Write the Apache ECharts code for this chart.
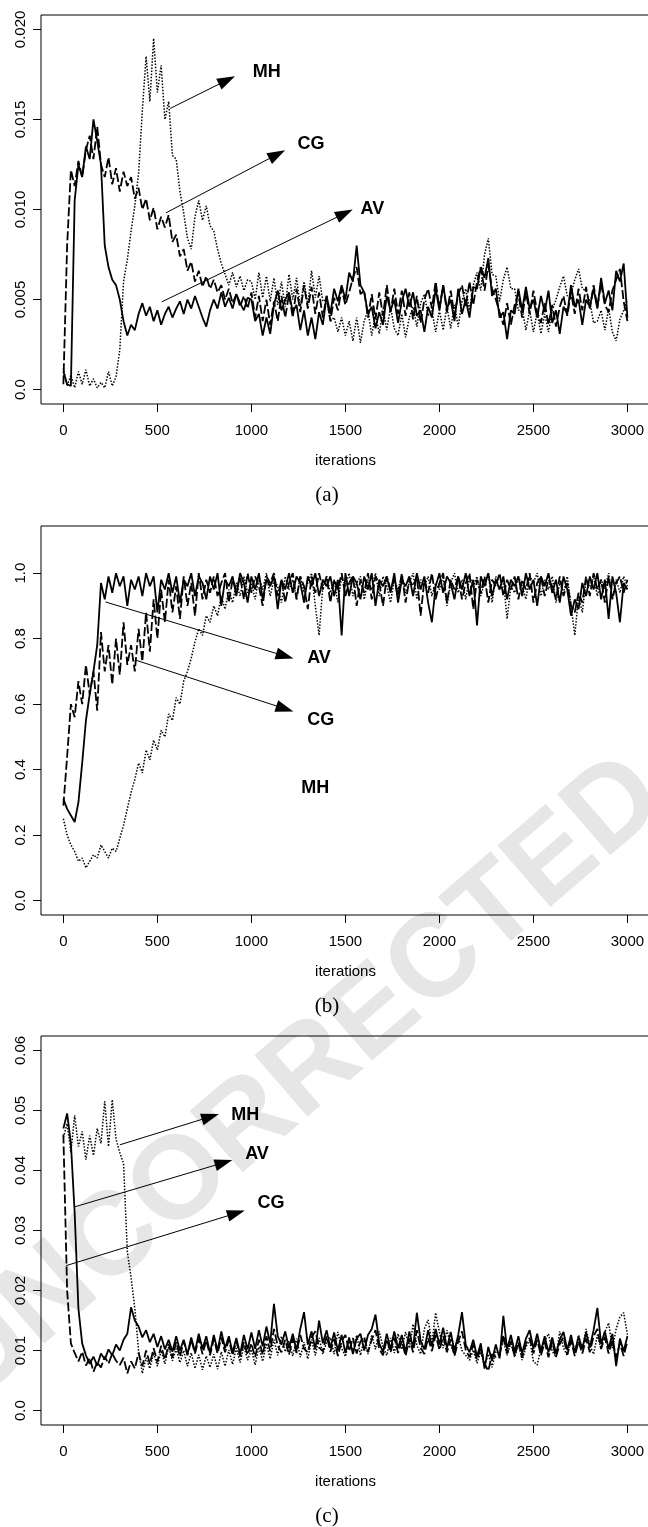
<!DOCTYPE html>
<html><head><meta charset="utf-8">
<script src="https://cdn.jsdelivr.net/npm/echarts@6/dist/echarts.min.js"></script>
<style>html,body{margin:0;padding:0;background:#fff}#c{width:648px;height:1527px}</style>
</head><body><div id="c"></div>
<script>
const iterations = [];
for (let t = 0; t <= 3000; t += 20) iterations.push(t);

const xTicks = [0, 500, 1000, 1500, 2000, 2500, 3000];
const yTicksA = [0, 0.005, 0.010, 0.015, 0.020];
const yLabelsA = ['0.0', '0.005', '0.010', '0.015', '0.020'];
const yTicksB = [0, 0.2, 0.4, 0.6, 0.8, 1.0];
const yLabelsB = ['0.0', '0.2', '0.4', '0.6', '0.8', '1.0'];
const yTicksC = [0, 0.01, 0.02, 0.03, 0.04, 0.05, 0.06];
const yLabelsC = ['0.0', '0.01', '0.02', '0.03', '0.04', '0.05', '0.06'];

// ---------- panel (a) ----------
const avA = [
0.0010,0.0003,0.0002,0.0105,0.0125,0.0118,0.0135,0.0128,0.0150,0.0138,
0.0125,0.0080,0.0068,0.0061,0.0058,0.0050,0.0038,0.0030,0.0036,0.0033,
0.0042,0.0048,0.0041,0.0046,0.0038,0.0044,0.0036,0.0042,0.0046,0.0040,
0.0045,0.0049,0.0042,0.0050,0.0045,0.0052,0.0046,0.0040,0.0035,0.0044,
0.0050,0.0045,0.0054,0.0046,0.0051,0.0045,0.0053,0.0048,0.0044,0.0051,
0.0050,0.0038,0.0042,0.0030,0.0040,0.0031,0.0047,0.0055,0.0044,0.0050,
0.0054,0.0043,0.0047,0.0033,0.0044,0.0030,0.0040,0.0028,0.0043,0.0036,
0.0052,0.0042,0.0056,0.0049,0.0058,0.0050,0.0065,0.0060,0.0080,0.0058,
0.0054,0.0042,0.0046,0.0034,0.0043,0.0036,0.0052,0.0044,0.0050,0.0037,
0.0049,0.0056,0.0046,0.0054,0.0041,0.0044,0.0032,0.0046,0.0040,0.0056,
0.0044,0.0058,0.0045,0.0050,0.0038,0.0056,0.0042,0.0050,0.0040,0.0057,
0.0056,0.0068,0.0062,0.0073,0.0052,0.0056,0.0040,0.0043,0.0028,0.0044,
0.0042,0.0056,0.0044,0.0057,0.0045,0.0050,0.0040,0.0052,0.0043,0.0055,
0.0037,0.0044,0.0031,0.0046,0.0042,0.0058,0.0046,0.0050,0.0036,0.0050,
0.0046,0.0056,0.0045,0.0062,0.0048,0.0055,0.0044,0.0066,0.0060,0.0070,
0.0040];
const cgA = [
0.0003,0.0080,0.0122,0.0113,0.0127,0.0118,0.0133,0.0141,0.0128,0.0146,
0.0125,0.0118,0.0129,0.0114,0.0123,0.0110,0.0121,0.0113,0.0118,0.0106,
0.0112,0.0100,0.0106,0.0094,0.0101,0.0089,0.0096,0.0090,0.0097,0.0082,
0.0086,0.0074,0.0078,0.0066,0.0071,0.0060,0.0066,0.0057,0.0063,0.0056,
0.0061,0.0054,0.0058,0.0050,0.0056,0.0048,0.0053,0.0046,0.0052,0.0045,
0.0054,0.0040,0.0052,0.0038,0.0050,0.0036,0.0049,0.0038,0.0052,0.0040,
0.0053,0.0040,0.0056,0.0043,0.0058,0.0045,0.0057,0.0042,0.0054,0.0040,
0.0052,0.0038,0.0051,0.0044,0.0056,0.0047,0.0054,0.0062,0.0068,0.0053,
0.0055,0.0040,0.0053,0.0039,0.0054,0.0041,0.0058,0.0043,0.0056,0.0042,
0.0055,0.0041,0.0054,0.0039,0.0052,0.0037,0.0050,0.0056,0.0045,0.0060,
0.0045,0.0058,0.0043,0.0055,0.0041,0.0053,0.0058,0.0046,0.0060,0.0047,
0.0060,0.0068,0.0055,0.0069,0.0056,0.0050,0.0043,0.0036,0.0048,0.0036,
0.0047,0.0053,0.0040,0.0054,0.0042,0.0055,0.0043,0.0037,0.0048,0.0036,
0.0047,0.0035,0.0046,0.0052,0.0041,0.0054,0.0042,0.0056,0.0044,0.0057,
0.0045,0.0058,0.0046,0.0059,0.0047,0.0043,0.0055,0.0061,0.0067,0.0049,
0.0038];
const mhA = [
0.0012,0.0002,0.0008,0.0001,0.0010,0.0003,0.0011,0.0002,0.0006,0.0001,
0.0004,0.0001,0.0010,0.0002,0.0007,0.0022,0.0060,0.0072,0.0088,0.0102,
0.0120,0.0155,0.0185,0.0160,0.0195,0.0165,0.0180,0.0150,0.0160,0.0130,
0.0128,0.0110,0.0098,0.0084,0.0078,0.0096,0.0105,0.0094,0.0102,0.0091,
0.0088,0.0078,0.0070,0.0064,0.0058,0.0065,0.0057,0.0063,0.0055,0.0061,
0.0060,0.0050,0.0065,0.0051,0.0063,0.0049,0.0062,0.0047,0.0060,0.0046,
0.0064,0.0050,0.0062,0.0046,0.0060,0.0047,0.0066,0.0051,0.0063,0.0049,
0.0050,0.0038,0.0040,0.0032,0.0040,0.0030,0.0038,0.0027,0.0040,0.0026,
0.0038,0.0044,0.0030,0.0042,0.0031,0.0045,0.0033,0.0046,0.0034,0.0030,
0.0042,0.0029,0.0040,0.0046,0.0035,0.0048,0.0053,0.0041,0.0044,0.0032,
0.0044,0.0033,0.0046,0.0034,0.0047,0.0035,0.0049,0.0056,0.0044,0.0058,
0.0065,0.0055,0.0075,0.0084,0.0064,0.0063,0.0049,0.0061,0.0068,0.0056,
0.0056,0.0044,0.0045,0.0033,0.0044,0.0032,0.0043,0.0031,0.0042,0.0032,
0.0044,0.0050,0.0057,0.0063,0.0052,0.0053,0.0061,0.0067,0.0056,0.0055,
0.0049,0.0037,0.0038,0.0044,0.0033,0.0045,0.0032,0.0027,0.0039,0.0044,
0.0050];

// ---------- panel (b) ----------
const avB = [
0.31,0.28,0.26,0.24,0.30,0.42,0.55,0.63,0.70,0.78,
0.97,0.92,0.99,0.94,1.00,0.96,0.99,0.90,0.98,0.95,
0.99,0.93,1.00,0.96,0.99,0.88,0.98,0.95,1.00,0.94,
0.99,0.91,0.98,0.96,1.00,0.93,0.99,0.97,0.92,0.99,
0.95,1.00,0.90,0.98,0.96,0.99,0.93,1.00,0.97,0.91,
0.99,0.95,1.00,0.92,0.98,0.96,0.99,0.89,0.98,0.95,
1.00,0.94,0.99,0.97,0.91,0.99,0.96,1.00,0.93,0.98,
0.96,0.99,0.93,0.98,0.81,1.00,0.93,0.99,0.97,0.92,
0.99,0.95,1.00,0.90,0.98,0.96,0.99,0.94,1.00,0.91,
0.98,0.96,0.99,0.93,1.00,0.95,0.99,0.91,0.85,0.96,
1.00,0.94,0.99,0.97,0.92,0.99,0.95,1.00,0.93,0.98,
0.84,0.99,0.96,1.00,0.93,0.98,0.95,0.99,0.92,0.98,
0.96,0.99,0.93,1.00,0.95,0.98,0.90,0.99,0.96,1.00,
0.94,0.98,0.91,0.99,0.95,0.87,0.92,0.89,0.97,0.93,
0.99,0.95,1.00,0.92,0.98,0.86,0.99,0.94,0.85,0.97,
0.95];
const cgB = [
0.29,0.44,0.60,0.56,0.67,0.60,0.72,0.63,0.70,0.58,
0.82,0.70,0.78,0.66,0.80,0.69,0.85,0.72,0.78,0.70,
0.83,0.73,0.88,0.76,0.92,0.80,0.95,0.85,0.98,0.88,
0.96,0.86,0.99,0.90,0.97,0.87,1.00,0.92,0.98,0.94,
0.99,0.93,0.97,1.00,0.91,0.98,0.95,0.99,0.92,1.00,
0.94,0.99,0.96,0.90,0.99,0.97,1.00,0.93,0.98,0.91,
0.97,1.00,0.92,0.99,0.96,0.89,0.99,0.94,1.00,0.95,
0.99,0.91,0.98,0.95,1.00,0.93,0.97,0.99,0.90,0.98,
0.94,1.00,0.92,0.99,0.97,0.90,0.99,0.95,0.98,0.93,
1.00,0.91,0.98,0.96,0.99,0.87,0.98,0.94,1.00,0.92,
0.97,1.00,0.91,0.98,0.95,0.99,0.92,0.97,1.00,0.89,
0.98,0.94,0.99,0.91,0.98,0.96,1.00,0.93,0.98,0.95,
0.99,0.92,0.98,0.95,1.00,0.91,0.97,0.99,0.93,0.98,
0.96,0.92,0.99,0.93,0.97,0.90,0.88,0.94,0.91,0.99,
0.93,1.00,0.95,0.98,0.91,0.99,0.92,0.97,0.99,0.94,
0.98];
const mhB = [
0.25,0.20,0.17,0.15,0.12,0.13,0.10,0.12,0.14,0.13,
0.17,0.15,0.13,0.16,0.15,0.19,0.23,0.28,0.33,0.37,
0.42,0.39,0.46,0.43,0.49,0.46,0.52,0.50,0.57,0.55,
0.62,0.60,0.67,0.70,0.74,0.79,0.83,0.81,0.87,0.85,
0.90,0.87,0.93,0.89,0.95,0.91,0.97,0.93,0.99,0.94,
0.97,0.92,0.99,0.95,1.00,0.93,0.98,0.96,0.91,0.99,
0.95,0.98,0.92,0.99,0.94,0.97,1.00,0.90,0.81,0.96,
0.99,0.94,0.98,0.91,0.99,0.96,1.00,0.93,0.97,0.99,
0.92,0.98,0.95,1.00,0.93,0.99,0.96,0.91,0.98,0.95,
0.99,0.94,0.97,1.00,0.92,0.98,0.96,0.99,0.93,0.97,
0.95,0.99,0.90,0.97,1.00,0.94,0.98,0.92,0.99,0.96,
0.99,0.93,0.97,1.00,0.91,0.99,0.95,0.98,0.86,0.96,
0.94,0.99,0.96,0.92,0.99,0.97,1.00,0.93,0.98,0.95,
0.99,0.91,0.97,0.94,0.99,0.90,0.81,0.93,0.88,0.98,
0.96,0.99,0.93,0.98,0.95,1.00,0.92,0.98,0.94,0.99,
0.96];

// ---------- panel (c) ----------
const avC = [
0.0470,0.0495,0.0445,0.0330,0.0170,0.0112,0.0092,0.0078,0.0090,0.0075,
0.0095,0.0085,0.0102,0.0092,0.0110,0.0100,0.0118,0.0128,0.0172,0.0150,
0.0140,0.0122,0.0134,0.0114,0.0128,0.0106,0.0124,0.0102,0.0118,0.0098,
0.0124,0.0100,0.0118,0.0094,0.0122,0.0098,0.0128,0.0103,0.0124,0.0096,
0.0126,0.0100,0.0132,0.0104,0.0124,0.0097,0.0121,0.0094,0.0126,0.0102,
0.0130,0.0103,0.0134,0.0107,0.0140,0.0112,0.0178,0.0124,0.0110,0.0132,
0.0104,0.0128,0.0100,0.0136,0.0164,0.0110,0.0132,0.0102,0.0150,0.0112,
0.0134,0.0104,0.0130,0.0100,0.0126,0.0096,0.0122,0.0094,0.0120,0.0128,
0.0100,0.0126,0.0136,0.0160,0.0112,0.0098,0.0128,0.0102,0.0132,0.0104,
0.0126,0.0097,0.0132,0.0104,0.0163,0.0116,0.0102,0.0134,0.0107,0.0136,
0.0110,0.0138,0.0104,0.0131,0.0100,0.0126,0.0164,0.0110,0.0097,0.0118,
0.0090,0.0112,0.0070,0.0106,0.0083,0.0110,0.0087,0.0158,0.0102,0.0126,
0.0098,0.0124,0.0095,0.0120,0.0134,0.0103,0.0128,0.0099,0.0124,0.0097,
0.0122,0.0095,0.0118,0.0131,0.0101,0.0126,0.0097,0.0123,0.0103,0.0130,
0.0105,0.0134,0.0171,0.0111,0.0132,0.0103,0.0128,0.0074,0.0120,0.0099,
0.0124];
const cgC = [
0.0460,0.0200,0.0112,0.0096,0.0082,0.0098,0.0075,0.0088,0.0065,0.0080,
0.0072,0.0090,0.0078,0.0095,0.0083,0.0076,0.0088,0.0062,0.0082,0.0070,
0.0096,0.0074,0.0100,0.0078,0.0104,0.0081,0.0108,0.0085,0.0111,0.0088,
0.0114,0.0090,0.0116,0.0092,0.0118,0.0095,0.0120,0.0094,0.0117,0.0092,
0.0119,0.0095,0.0122,0.0097,0.0118,0.0092,0.0116,0.0090,0.0114,0.0093,
0.0112,0.0089,0.0118,0.0093,0.0124,0.0099,0.0136,0.0108,0.0097,0.0118,
0.0093,0.0120,0.0096,0.0126,0.0103,0.0097,0.0122,0.0132,0.0105,0.0099,
0.0124,0.0098,0.0119,0.0091,0.0116,0.0126,0.0099,0.0121,0.0095,0.0115,
0.0123,0.0097,0.0118,0.0134,0.0103,0.0092,0.0119,0.0097,0.0122,0.0096,
0.0116,0.0091,0.0120,0.0097,0.0134,0.0105,0.0094,0.0121,0.0099,0.0126,
0.0101,0.0124,0.0097,0.0119,0.0091,0.0115,0.0132,0.0101,0.0089,0.0110,
0.0085,0.0105,0.0078,0.0066,0.0094,0.0089,0.0091,0.0126,0.0095,0.0116,
0.0091,0.0114,0.0088,0.0112,0.0121,0.0095,0.0118,0.0092,0.0114,0.0089,
0.0114,0.0089,0.0111,0.0122,0.0093,0.0116,0.0091,0.0115,0.0095,0.0120,
0.0097,0.0124,0.0136,0.0103,0.0122,0.0095,0.0118,0.0088,0.0112,0.0091,
0.0116];
const mhC = [
0.0455,0.0478,0.0430,0.0492,0.0440,0.0465,0.0418,0.0458,0.0425,0.0470,
0.0445,0.0515,0.0440,0.0518,0.0452,0.0430,0.0412,0.0265,0.0222,0.0170,
0.0100,0.0062,0.0088,0.0070,0.0096,0.0074,0.0100,0.0078,0.0106,0.0083,
0.0103,0.0080,0.0100,0.0074,0.0096,0.0070,0.0093,0.0068,0.0091,0.0072,
0.0094,0.0069,0.0098,0.0074,0.0101,0.0077,0.0104,0.0080,0.0107,0.0084,
0.0102,0.0076,0.0106,0.0082,0.0112,0.0086,0.0118,0.0092,0.0124,0.0098,
0.0116,0.0091,0.0120,0.0089,0.0114,0.0086,0.0118,0.0092,0.0121,0.0094,
0.0114,0.0122,0.0094,0.0131,0.0104,0.0090,0.0118,0.0098,0.0126,0.0092,
0.0120,0.0094,0.0126,0.0102,0.0132,0.0106,0.0092,0.0121,0.0096,0.0128,
0.0102,0.0131,0.0104,0.0144,0.0109,0.0094,0.0136,0.0151,0.0112,0.0163,
0.0131,0.0104,0.0134,0.0109,0.0094,0.0124,0.0100,0.0092,0.0084,0.0101,
0.0079,0.0098,0.0074,0.0094,0.0072,0.0099,0.0094,0.0118,0.0092,0.0114,
0.0089,0.0111,0.0084,0.0106,0.0118,0.0082,0.0076,0.0104,0.0116,0.0128,
0.0099,0.0089,0.0132,0.0104,0.0092,0.0121,0.0097,0.0126,0.0102,0.0136,
0.0109,0.0094,0.0126,0.0102,0.0131,0.0146,0.0104,0.0136,0.0156,0.0163,
0.0126];

// annotation arrows: [name, start (iter, value), arrow-head centre (iter, value)]
const arrowsA = [['MH', [568, 0.01561], [870, 0.01718]], ['CG', [545, 0.00981], [1137, 0.01306]], ['AV', [523, 0.00487], [1496, 0.00978]]];
const labelsA = [['MH', [1004, 0.01763]], ['CG', [1242, 0.01363]], ['AV', [1578, 0.01002]]];
const arrowsB = [['AV', [224, 0.912], [1178, 0.747]], ['CG', [381, 0.735], [1178, 0.586]]];
const labelsB = [['AV', [1294, 0.742]], ['CG', [1294, 0.5525]], ['MH', [1263, 0.3436]]];
const arrowsC = [['MH', [300, 0.04427], [782, 0.04895]], ['AV', [59, 0.03393], [853, 0.0413]], ['CG', [15, 0.02415], [919, 0.03288]]];
const labelsC = [['MH', [890, 0.04923]], ['AV', [964, 0.04273]], ['CG', [1030, 0.03455]]];

const captions = ['(a)', '(b)', '(c)'];

// ---------- layout / styles ----------
const FONT = '"Liberation Sans", Arial, Helvetica, sans-serif';
const grids = [
  {left: 41, top: 15, width: 609, height: 389},
  {left: 41, top: 526, width: 609, height: 389},
  {left: 41, top: 1036, width: 609, height: 389}
];
const yRanges = [[-0.0008, 0.0208], [-0.044, 1.144], [-0.0024, 0.0624]];
const yTickSets = [[yTicksA, yLabelsA], [yTicksB, yLabelsB], [yTicksC, yLabelsC]];

function fmt(ticks, labels) {
  return function (v) {
    for (let i = 0; i < ticks.length; i++) if (Math.abs(ticks[i] - v) < 1e-9) return labels[i];
    return '';
  };
}
const pts = ys => ys.map((y, i) => [iterations[i], y]);

const LSTYLE = {
  AV: {width: 1.8, type: 'solid'},
  CG: {width: 1.8, type: [9, 3]},
  MH: {width: 1.5, type: [1.5, 1.6]}
};

function trace(name, ys, g, arrows, labels) {
  const arr = arrows.filter(a => a[0] === name);
  const lab = labels.filter(l => l[0] === name);
  return {
    name: name, type: 'line', xAxisIndex: g, yAxisIndex: g, data: pts(ys),
    showSymbol: false, symbol: 'none', animation: false, silent: true, z: 3,
    lineStyle: Object.assign({color: '#000'}, LSTYLE[name]),
    markLine: {
      silent: true, animation: false, symbol: ['none', 'triangle'],
      lineStyle: {color: '#000', width: 1, type: 'solid'},
      label: {show: false},
      data: arr.map(a => [{coord: a[1], symbol: 'none'}, {coord: a[2], symbol: 'triangle', symbolSize: [12, 18]}])
    },
    markPoint: {
      silent: true, animation: false, symbol: 'circle', symbolSize: 1,
      itemStyle: {color: 'rgba(0,0,0,0)'},
      label: {show: true, position: 'right', distance: 0, color: '#000', fontSize: 18, fontWeight: 'bold', fontFamily: FONT, formatter: p => p.name},
      data: lab.map(l => ({name: l[0], coord: l[1]}))
    }
  };
}

const option = {
  backgroundColor: '#fff',
  animation: false,
  grid: grids.map(g => Object.assign({show: true, borderColor: '#000', borderWidth: 1, backgroundColor: 'transparent', containLabel: false, outerBoundsMode: 'none'}, g)),
  xAxis: grids.map((g, i) => ({
    gridIndex: i, type: 'value', min: -119, max: 3120,
    axisLine: {show: false, onZero: false}, splitLine: {show: false},
    axisTick: {show: true, length: 8, lineStyle: {color: '#000', width: 1}, customValues: xTicks},
    axisLabel: {show: true, margin: 19, color: '#000', fontSize: 15, fontFamily: FONT, customValues: xTicks, formatter: v => String(v)},
    name: 'iterations', nameLocation: 'middle', nameGap: 49,
    nameTextStyle: {color: '#000', fontSize: 15, fontFamily: FONT}
  })),
  yAxis: grids.map((g, i) => ({
    gridIndex: i, type: 'value', min: yRanges[i][0], max: yRanges[i][1],
    axisLine: {show: false, onZero: false}, splitLine: {show: false},
    axisTick: {show: true, length: 8, lineStyle: {color: '#000', width: 1}, customValues: yTickSets[i][0]},
    axisLabel: {show: true, rotate: 90, margin: 13, color: '#000', fontSize: 15, fontFamily: FONT,
      customValues: yTickSets[i][0], formatter: fmt(yTickSets[i][0], yTickSets[i][1])}
  })),
  graphic: [
    {type: 'text', x: 300, y: 1080, rotation: 0.712, z: -10, silent: true,
      style: {text: 'UNCORRECTED', fill: '#e6e6e6', font: 'bold 118px ' + FONT, align: 'center', verticalAlign: 'middle'}}
  ].concat(grids.map((g, i) => ({
    type: 'text', x: 327, y: g.top + g.height + 91.5, silent: true,
    style: {text: captions[i], fill: '#000', font: '21px "Liberation Serif", "Times New Roman", serif', align: 'center', verticalAlign: 'middle'}
  }))),
  series: [
    trace('MH', mhA, 0, arrowsA, labelsA),
    trace('CG', cgA, 0, arrowsA, labelsA),
    trace('AV', avA, 0, arrowsA, labelsA),
    trace('MH', mhB, 1, arrowsB, labelsB),
    trace('CG', cgB, 1, arrowsB, labelsB),
    trace('AV', avB, 1, arrowsB, labelsB),
    trace('MH', mhC, 2, arrowsC, labelsC),
    trace('CG', cgC, 2, arrowsC, labelsC),
    trace('AV', avC, 2, arrowsC, labelsC)
  ]
};

const chart = echarts.init(document.getElementById('c'), null, {renderer: 'canvas'});
chart.setOption(option);
</script>
</body></html>
